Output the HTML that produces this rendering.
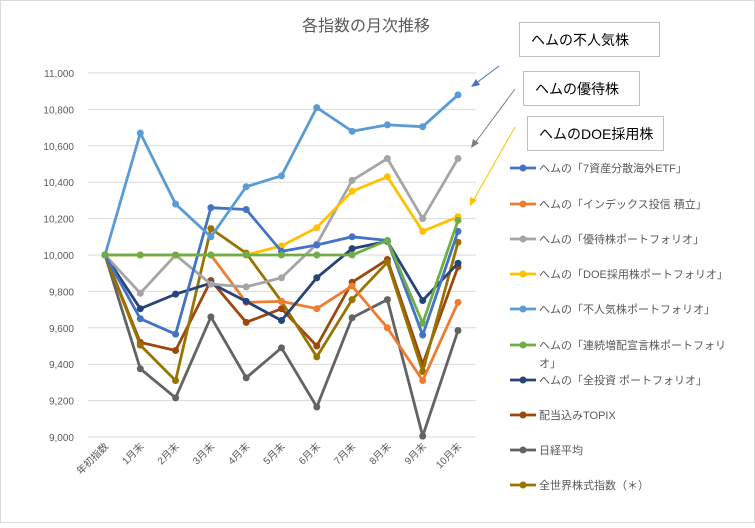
<!DOCTYPE html>
<html><head><meta charset="utf-8">
<style>
html,body{margin:0;padding:0;background:#fff;}
body{width:755px;height:523px;overflow:hidden;font-family:"Liberation Sans","Noto Sans CJK JP",sans-serif;}
svg text{font-family:"Liberation Sans","Noto Sans CJK JP",sans-serif;}
</style></head>
<body>
<svg id="chart" width="755" height="523" viewBox="0 0 755 523" xmlns="http://www.w3.org/2000/svg">
<rect x="0.5" y="0.5" width="754" height="522" fill="#fff" stroke="#d9d9d9"/>
<text x="366" y="31" text-anchor="middle" font-size="16" fill="#595959">各指数の月次推移</text>
<g id="grid"></g>
<g id="ylabels"></g>
<g id="xlabels"></g>
<g id="series"></g>
<g id="legend"></g>
<g>
<rect x="519.5" y="22.5" width="140" height="34" fill="#fff" stroke="#bfbfbf"/>
<text x="531" y="45" font-size="14" fill="#000">ヘムの不人気株</text>
<rect x="523.5" y="71.5" width="116" height="34" fill="#fff" stroke="#bfbfbf"/>
<text x="535" y="94" font-size="14" fill="#000">ヘムの優待株</text>
<rect x="527.5" y="116.5" width="136" height="34" fill="#fff" stroke="#bfbfbf"/>
<text x="539" y="139" font-size="14" fill="#000">ヘムのDOE採用株</text>
<line x1="499" y1="66" x2="475" y2="84" stroke="#4472c4" stroke-width="1"/>
<polygon points="471,87 476,79 480,85" fill="#4472c4"/>
<line x1="515" y1="89" x2="475" y2="143" stroke="#7f7f7f" stroke-width="1"/>
<polygon points="471,148 473,139 479,143" fill="#7f7f7f"/>
<line x1="515" y1="127" x2="473" y2="201" stroke="#ffc000" stroke-width="1"/>
<polygon points="470,206 470,197 477,200" fill="#ffc000"/>
</g>
</svg>
<script>
const categories = ["年初指数","1月末","2月末","3月末","4月末","5月末","6月末","7月末","8月末","9月末","10月末"];
const yTicks = [9000,9200,9400,9600,9800,10000,10200,10400,10600,10800,11000];
const yTickLabels = ["9,000","9,200","9,400","9,600","9,800","10,000","10,200","10,400","10,600","10,800","11,000"];
const seriesNames = ["ヘムの「7資産分散海外ETF」","ヘムの「インデックス投信 積立」","ヘムの「優待株ポートフォリオ」","ヘムの「DOE採用株ポートフォリオ」","ヘムの「不人気株ポートフォリオ」","ヘムの「連続増配宣言株ポートフォリオ」","ヘムの「全投資 ポートフォリオ」","配当込みTOPIX","日経平均","全世界株式指数（＊）"];
const seriesColors = ["#4472c4","#ed7d31","#a5a5a5","#ffc000","#5b9bd5","#70ad47","#264478","#9e480e","#636363","#997300"];
const s7asset = [10000,9650,9565,10260,10250,10020,10055,10100,10080,9560,10130];
const sIndex = [10000,10000,10000,10000,9740,9745,9705,9830,9600,9310,9740];
const sYutai = [10000,9790,10000,9840,9825,9875,10060,10410,10530,10200,10530];
const sDOE = [10000,10000,10000,10000,10000,10050,10150,10350,10430,10130,10210];
const sUnpop = [10000,10670,10280,10100,10375,10435,10810,10680,10715,10705,10880];
const sRenzoku = [10000,10000,10000,10000,10000,10000,10000,10000,10080,9625,10190];
const sAll = [10000,9705,9785,9845,9745,9640,9875,10035,10075,9750,9955];
const sTopix = [10000,9520,9475,9860,9630,9705,9500,9850,9975,9400,9935];
const sNikkei = [10000,9375,9215,9660,9325,9490,9165,9655,9755,9005,9585];
const sWorld = [10000,9505,9310,10145,10010,9745,9440,9755,9960,9360,10070];
const seriesValues = [s7asset,sIndex,sYutai,sDOE,sUnpop,sRenzoku,sAll,sTopix,sNikkei,sWorld];

const NS="http://www.w3.org/2000/svg";
const yMin=9000,yMax=11000,plotTop=73,plotBottom=437,plotLeft=88,plotRight=476;
const x0=105,dx=35.3;
function xScale(i){return x0+i*dx;}
function yScale(v){return plotBottom-(v-yMin)/(yMax-yMin)*(plotBottom-plotTop);}
function mk(tag,attrs,parent){const e=document.createElementNS(NS,tag);for(const k in attrs)e.setAttribute(k,attrs[k]);parent.appendChild(e);return e;}

const grid=document.getElementById('grid'),yl=document.getElementById('ylabels'),xl=document.getElementById('xlabels');
yTicks.forEach((t,i)=>{
  const y=yScale(t);
  const l=mk('line',{x1:plotLeft,x2:plotRight,y1:y,y2:y,stroke:'#d9d9d9','stroke-width':1},grid);
  
  
  const tx=mk('text',{x:74,y:y+4,'text-anchor':'end','font-size':10,fill:'#595959'},yl);
  tx.textContent=yTickLabels[i];
  
  
});
categories.forEach((c,i)=>{
  const x=xScale(i)+4,y=plotBottom+10;
  const tx=mk('text',{x:x,y:y,'text-anchor':'end','font-size':10,fill:'#595959',transform:`rotate(-45 ${x} ${y})`},xl);
  tx.textContent=c;
  
  
});
const sg=document.getElementById('series');
const order=[8,7,9,1,6,2,3,0,4,5];
order.forEach(si=>{
  const vals=seriesValues[si],col=seriesColors[si];
  const g=mk('g',{},sg);
  
  
  const pts=vals.map((v,i)=>xScale(i)+','+yScale(v)).join(' ');
  const pl=mk('polyline',{points:pts,fill:'none',stroke:col,'stroke-width':2.8,'stroke-linejoin':'round'},g);
  
  
  vals.forEach((v,i)=>{
    const c=mk('circle',{cx:xScale(i),cy:yScale(v),r:3.5,fill:col},g);
    
    
  });
});
const lg=document.getElementById('legend');
const legY=[168,204,239,274,309,345,380,415,450,485];
seriesNames.forEach((n,i)=>{
  const g=mk('g',{},lg);
  
  
  const y=legY[i];
  mk('line',{x1:510,x2:536,y1:y,y2:y,stroke:seriesColors[i],'stroke-width':2.8},g);
  mk('circle',{cx:523,cy:y,r:3.5,fill:seriesColors[i]},g);
  if(i===5){
    const t=mk('text',{x:539,y:y+4,'font-size':11,fill:'#595959'},g);
    t.textContent="ヘムの「連続増配宣言株ポートフォリ";
    const t2=mk('text',{x:539,y:y+22,'font-size':11,fill:'#595959'},g);
    t2.textContent="オ」";
  } else {
    const t=mk('text',{x:539,y:y+4,'font-size':11,fill:'#595959'},g);
    t.textContent=n;
  }
});
</script>
</body></html>
